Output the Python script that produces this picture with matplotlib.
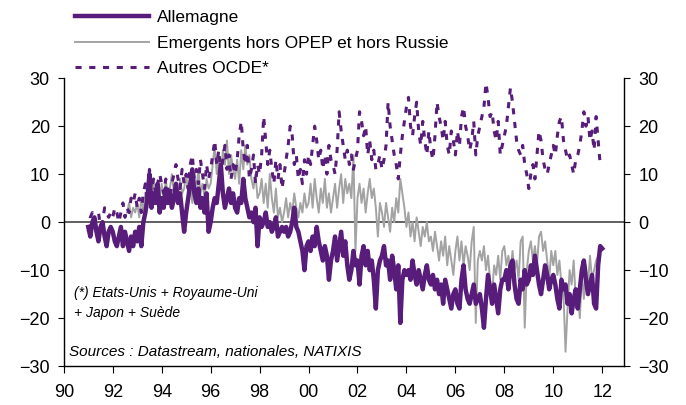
import numpy as np
import matplotlib.pyplot as plt

plt.rcParams['font.family'] = ['Liberation Sans', 'DejaVu Sans']

# monthly values, Jan 1991 -> Jan 2012
allemagne = [
    -1, -3, 0, 1, -2, -4, -1, 0, -3, -5, -2, -1,          # 1991
    -2, -4, -5, -3, -1, -5, -2, -4, -6, -3, -5, -2,       # 1992
    -4, -1, -5, 0, 2, 5, 10, 3, 6, 4, 8, 2,               # 1993
    5, 3, 7, 4, 6, 3, 5, 8, 4, 6, 2, -2,                  # 1994
    2, 5, 8, 11, 6, 4, 7, 3, 5, 2, 6, -2,                 # 1995
    0, 3, 5, 4, 8, 12, 6, 3, 5, 7, 4, 6,                  # 1996
    3, 2, 5, 4, 9, 5, 3, 1, 2, 0, 3, -5,                  # 1997
    1, -1, 0, 2, -1, 0, -2, -1, 1, -3, -2, -1,            # 1998
    -2, -1, -3, -2, 0, 3, -1, -2, -4, -6, -10, -5,        # 1999
    -4, -6, -3, -5, -1, -4, -6, -8, -5, -7, -12, -8,      # 2000
    -6, -3, -8, -5, -2, -7, -4, -9, -12, -10, -6, -9,     # 2001
    -8, -13, -7, -5, -9, -6, -10, -8, -12, -18, -10, -8,  # 2002
    -7, -5, -9, -8, -12, -7, -10, -14, -9, -21, -12, -10, # 2003
    -11, -10, -12, -8, -11, -13, -10, -12, -14, -11, -9, -12,   # 2004
    -13, -11, -14, -12, -15, -13, -17, -12, -14, -16, -18, -15, # 2005
    -14, -17, -18, -12, -9, -14, -16, -17, -15, -13, -17, -16,  # 2006
    -15, -18, -22, -16, -11, -14, -17, -13, -16, -19, -14, -12, # 2007
    -12, -10, -14, -9, -8, -13, -16, -17, -12, -14, -10, -13,   # 2008
    -12, -9, -11, -7, -10, -13, -15, -12, -9, -11, -14, -12,    # 2009
    -11, -13, -16, -18, -12, -14, -13, -17, -15, -19, -16, -14, # 2010
    -18, -14, -10, -8, -12, -15, -13, -11, -17, -18, -9, -5,    # 2011
    -5.5,                                                 # 2012
]

# monthly values, Aug 1992 -> Dec 2011
emergents = [
    2, 4, 1, 3, 2,                                        # 1992
    4, 1, 5, 2, 6, 3, 8, 5, 9, 4, 7, 5,                   # 1993
    8, 4, 9, 5, 7, 10, 6, 8, 5, 9, 6, 7,                  # 1994
    10, 6, 8, 4, 9, 7, 11, 6, 8, 5, 9, 7,                 # 1995
    8, 12, 16, 10, 13, 9, 15, 12, 17, 10, 14, 11,         # 1996
    9, 13, 8, 15, 11, 16, 12, 14, 9, 7, 10, 5,            # 1997
    6, 9, 4, 8, 3, 10, 5, 2, 7, 1, 3, 0,                  # 1998
    2, 5, 1, 4, 2, 6, 3, 1, 4, 2, 6, 3,                   # 1999
    4, 8, 3, 9, 5, 2, 7, 4, 9, 3, 6, 2,                   # 2000
    5, 8, 3, 7, 10, 4, 9, 6, 8, 5, 14, -6,                # 2001
    5, 8, 4, 7, 2, 6, 9, 5, 7, 3, -3, 4,                  # 2002
    2, -1, 4, 1, -2, 3, 0, 5, 2, 9, 6, 3,                 # 2003
    -1, 2, -3, 0, -4, 1, -2, -5, -1, -3, 0, -4,           # 2004
    -3, -6, -2, -5, -8, -4, -7, -3, -9, -5, -8, -11,      # 2005
    -6, -3, -8, -4, -9, -5, -7, -10, -4, -1, -21, -8,     # 2006
    -6, -8, -5, -10, -7, -12, -15, -9, -11, -7, -12, -6,  # 2007
    -5, -9, -7, -11, -6, -10, -8, -12, -4, -3, -22, -10,  # 2008
    -6, -4, -8, -5, -9, -3, -2, -6, -4, -8, -12, -6,      # 2009
    -9, -6, -11, -8, -13, -15, -27, -18, -10, -13, -8, -16,  # 2010
    -14, -20, -11, -16, -9, -13, -7, -12, -10, -8, -7, -6,   # 2011
]

# monthly values, Jan 1991 -> Jan 2012
autres_ocde = [
    -2, 1, 2, 0, 1, 2, -1, 0, 3, 2, 1, 2,                 # 1991
    1, 3, 2, 0, 2, 4, 1, 3, 2, 5, 4, 6,                   # 1992
    3, 5, 2, 6, 8, 4, 11, 7, 9, 6, 8, 10,                 # 1993
    8, 6, 9, 7, 5, 8, 10, 12, 9, 7, 11, 8,                # 1994
    10, 7, 12, 14, 9, 11, 8, 13, 10, 7, 12, 9,            # 1995
    11, 14, 17, 12, 15, 10, 13, 16, 11, 14, 9, 12,        # 1996
    10, 13, 18, 21, 15, 12, 16, 9, 11, 14, 8, 12,         # 1997
    10, 14, 22, 17, 12, 15, 11, 8, 13, 9, 12, 7,          # 1998
    10, 13, 16, 20, 18, 12, 14, 9, 11, 8, 13, 10,         # 1999
    14, 12, 16, 20, 17, 13, 15, 11, 14, 10, 16, 13,       # 2000
    12, 10, 15, 23, 19, 16, 13, 15, 12, 14, 11, 13,       # 2001
    15, 23, 21, 18, 20, 14, 17, 13, 15, 11, 12, 14,       # 2002
    11, 13, 16, 25, 20, 17, 14, 12, 9, 14, 18, 21,        # 2003
    24, 26, 20, 18, 22, 25, 19, 16, 21, 17, 14, 19,       # 2004
    15, 13, 18, 25, 22, 20, 17, 21, 16, 14, 19, 17,       # 2005
    14, 19, 16, 22, 24, 20, 18, 15, 17, 21, 14, 18,       # 2006
    20, 22, 24, 29, 26, 22, 23, 19, 17, 21, 14, 16,       # 2007
    18, 20, 24, 28, 25, 21, 17, 15, 14, 16, 12, 10,       # 2008
    7, 10, 12, 9, 14, 19, 17, 13, 11, 10, 12, 14,         # 2009
    16, 14, 18, 21, 22, 17, 15, 13, 14, 12, 10, 13,       # 2010
    14, 16, 19, 23, 20, 22, 17, 19, 15, 22, 17, 12,       # 2011
    12,                                                   # 2012
]

x_ticks = list(range(1990, 2013, 2))
x_labels = ['90', '92', '94', '96', '98', '00', '02', '04', '06', '08', '10', '12']

purple = '#581d7a'
gray = '#a3a3a3'

t_all = 1991 + np.arange(len(allemagne)) / 12
t_em = 1992 + 7 / 12 + np.arange(len(emergents)) / 12
t_oc = 1991 + np.arange(len(autres_ocde)) / 12

fig = plt.figure(figsize=(6.86, 4.05), dpi=100)
ax = fig.add_axes([0.093, 0.096, 0.817, 0.711])

ax.axhline(0, color='#444444', lw=1.2, zorder=1)
l1, = ax.plot(t_all, allemagne, color=purple, lw=3.2, zorder=3, label='Allemagne')
l2, = ax.plot(t_em, emergents, color=gray, lw=1.4, zorder=2,
              label='Emergents hors OPEP et hors Russie')
l3, = ax.plot(t_oc, autres_ocde, color=purple, lw=2.2, ls=(0, (2, 2.5)), zorder=2,
              label='Autres OCDE*')

ax.set_xlim(1990, 2012.9)
ax.set_ylim(-30, 30)
ax.set_yticks([-30, -20, -10, 0, 10, 20, 30])
ax.set_xticks(x_ticks)
ax.set_xticklabels(x_labels)
ax.spines['top'].set_visible(False)
for s in ['left', 'right', 'bottom']:
    ax.spines[s].set_linewidth(1.0)
ax.tick_params(axis='y', right=True, labelright=True, direction='out', length=4,
               labelsize=13, pad=6)
ax.tick_params(axis='x', direction='out', length=5, labelsize=13, pad=8)

fig.legend(handles=[l1, l2, l3], loc='upper left', bbox_to_anchor=(0.109, 0.975),
           frameon=False, fontsize=12.5, handlelength=4.3, handletextpad=0.46,
           labelspacing=0.6, borderpad=0, borderaxespad=0)

ax.text(0.018, 0.255, '(*) Etats-Unis + Royaume-Uni', transform=ax.transAxes,
        fontsize=10, style='italic', va='center')
ax.text(0.018, 0.183, '+ Japon + Suède', transform=ax.transAxes,
        fontsize=10, style='italic', va='center')
ax.text(0.01, 0.05, 'Sources : Datastream, nationales, NATIXIS', transform=ax.transAxes,
        fontsize=11, style='italic', va='center')

fig.savefig('out.png', dpi=100)
